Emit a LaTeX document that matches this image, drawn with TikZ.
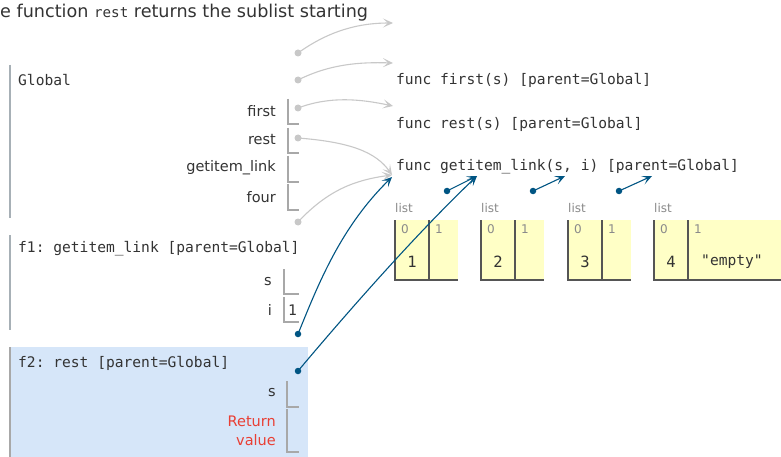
\documentclass[tikz,border=0pt]{standalone}
\usepackage{fontspec}
\setmainfont{DejaVu Sans}
\setmonofont{DejaVu Sans Mono}
\usetikzlibrary{arrows.meta}
\definecolor{ptblue}{HTML}{005583}
\definecolor{ptgrey}{HTML}{C8C8C8}
\definecolor{txt}{HTML}{333333}
\definecolor{framebar}{HTML}{A7B0B6}
\definecolor{slotgrey}{HTML}{A8A8A8}
\definecolor{heapfill}{HTML}{FFFFC6}
\definecolor{cellline}{HTML}{555555}
\definecolor{activebg}{HTML}{D6E6F9}
\definecolor{retred}{HTML}{E93F34}
\definecolor{idxgrey}{HTML}{8A8A8A}
\tikzset{
  mono/.style={font=\fontsize{14.6}{17}\ttfamily, text=txt, inner sep=0pt, anchor=west},
  varname/.style={font=\fontsize{14.5}{17}\selectfont, text=txt, inner sep=0pt, anchor=east},
  small/.style={font=\fontsize{12}{14}\selectfont, text=idxgrey, inner sep=0pt},
  bar/.style={framebar, line width=1.8pt},
  slotline/.style={slotgrey, line width=1.6pt},
  cellbox/.style={cellline, line width=2pt},
  greydot/.style={circle, fill=ptgrey, inner sep=0pt, minimum size=7pt},
  bluedot/.style={circle, fill=ptblue, inner sep=0pt, minimum size=6.5pt},
  greyptr/.style={ptgrey, line width=1.1pt, -{Stealth[length=10pt, width=9pt, inset=5pt]}},
  blueptr/.style={ptblue, line width=1.1pt, -{Stealth[length=10pt, width=9pt, inset=5pt]}}
}
\begin{document}
\begin{tikzpicture}[x=1pt, y=-1pt]
\useasboundingbox (0,0) rectangle (781,457);
\fill[white] (0,0) rectangle (781,457);

% title line
\node [anchor=west, inner sep=0pt, text=txt, font=\fontsize{17.6}{20}\selectfont] (title) at (0,13)
  {e function {\fontsize{14.2}{16}\ttfamily rest} returns the sublist starting};

% frames
\fill [activebg] (10,347) rectangle (308,460);
\draw [bar] (10,65) -- (10,218);
\draw [bar] (10,235) -- (10,330);
\draw [bar, draw=slotgrey] (10,347) -- (10,460);
\node [mono] (global) at (18,80) {Global};
\node [mono] (f1) at (18,249) {f1: getitem\_link [parent=Global]};
\node [mono] (f2) at (18,363) {f2: rest [parent=Global]};

% global variables
\node [varname] (vfirst) at (276,111) {first};
\node [varname] (vrest) at (276,140) {rest};
\node [varname] (vget) at (276,168) {getitem\_link};
\node [varname] (vfour) at (276,197) {four};
\draw [slotline] (288,99) -- (288,124) -- (299,124);
\draw [slotline] (288,128) -- (288,153) -- (299,153);
\draw [slotline] (288,156) -- (288,182) -- (299,182);
\draw [slotline] (288,184) -- (288,210) -- (299,210);

% f1 variables
\node [varname] (f1s) at (272,282) {s};
\node [varname] (f1i) at (272,310) {i};
\draw [slotline] (284,269) -- (284,294) -- (299,294);
\draw [slotline] (284,297) -- (284,322) -- (299,322);
\node [mono] (ival) at (288,310) {1};

% f2 variables
\node [varname] (f2s) at (276,393) {s};
\node [varname, text=retred, align=right, font=\fontsize{14.5}{19}\selectfont] (ret) at (276,431) {Return\\value};
\draw [slotline] (287,381) -- (287,407) -- (299,407);
\draw [slotline] (287,409) -- (287,452) -- (299,452);

% function objects
\node [mono] (ffirst) at (396,80) {func first(s) [parent=Global]};
\node [mono] (frest) at (396,124) {func rest(s) [parent=Global]};
\node [mono] (fget) at (396,167) {func getitem\_link(s, i) [parent=Global]};

% linked lists
\foreach \x/\v/\n in {395/1/1, 481/2/2, 568/3/3} {
  \fill [heapfill] (\x,220) rectangle (\x+63,280);
  \draw [cellbox] (\x,220) -- (\x,280) -- (\x+63,280);
  \draw [cellbox] (\x+34,220) -- (\x+34,280);
  \node [small, anchor=west] (lab\n) at (\x,208) {list};
  \node [small, anchor=west] (i0\n) at (\x+6,229) {0};
  \node [small, anchor=west] (i1\n) at (\x+40,229) {1};
  \node [mono, anchor=center, font=\fontsize{15.5}{17}\ttfamily] (val\n) at (\x+17,262) {\v};
}
\fill [heapfill] (654,220) rectangle (790,280);
\draw [cellbox] (654,220) -- (654,280) -- (790,280);
\draw [cellbox] (688,220) -- (688,280);
\node [small, anchor=west] (lab4) at (654,208) {list};
\node [small, anchor=west] (i04) at (660,229) {0};
\node [small, anchor=west] (i14) at (694,229) {1};
\node [mono, anchor=center, font=\fontsize{15.5}{17}\ttfamily] (val4) at (671,262) {4};
\node [mono, anchor=center] (empty) at (732,262) {"empty"};

% pointer ends
\node [greydot] (gd1) at (298,53) {};
\node [greydot] (gd2) at (298,80) {};
\node [greydot] (gd3) at (298,108) {};
\node [greydot] (gd4) at (298,138) {};
\node [greydot] (gd5) at (298,222) {};
\coordinate (gt1) at (393,23);
\coordinate (gt2) at (393,63);
\coordinate (gt3) at (393,106);
\coordinate (gt4) at (392,175);
\node [bluedot] (bd1) at (298,334) {};
\node [bluedot] (bd2) at (298,371) {};
\node [bluedot] (bd3) at (447,191) {};
\node [bluedot] (bd4) at (533,191) {};
\node [bluedot] (bd5) at (619,191) {};
\coordinate (bt1) at (392,177);
\coordinate (bt2) at (477,176);
\coordinate (bt3) at (565,176);
\coordinate (bt4) at (652,176);

% pointers
\draw [greyptr] (gd1.center) .. controls (330,30) and (360,23) .. (gt1);
\draw [greyptr] (gd2.center) .. controls (330,64) and (360,62) .. (gt2);
\draw [greyptr] (gd3.center) .. controls (330,96) and (360,99) .. (gt3);
\draw [greyptr] (gd4.center) .. controls (350,142) and (376,152) .. (gt4);
\draw [greyptr] (gd5.center) .. controls (328,190) and (355,180) .. (gt4);
\draw [blueptr] (bd1.center) .. controls (318,285) and (340,228) .. (bt1);
\draw [blueptr] (bd2.center) .. controls (345,315) and (415,235) .. (bt2);
\draw [blueptr] (bd3.center) -- (bt2);
\draw [blueptr] (bd4.center) -- (bt3);
\draw [blueptr] (bd5.center) -- (bt4);
\end{tikzpicture}
\end{document}
